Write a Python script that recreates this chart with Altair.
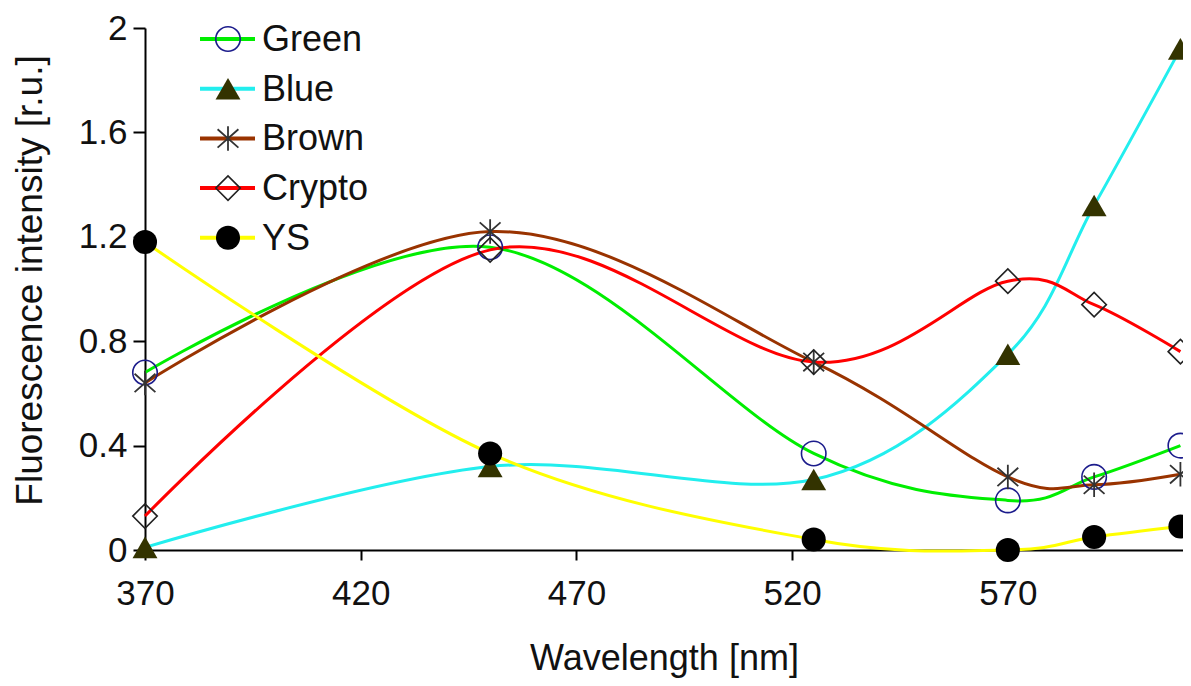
import altair as alt
import pandas as pd

# ---- data ----
wavelength = [370, 450, 525, 570, 590, 610]
series_names = ["Green", "Blue", "Brown", "Crypto", "YS"]
green = [0.68, 1.16, 0.37, 0.19, 0.28, 0.40]
blue = [0.01, 0.32, 0.27, 0.75, 1.32, 1.92]
brown = [0.64, 1.22, 0.72, 0.28, 0.25, 0.29]
crypto = [0.13, 1.15, 0.72, 1.03, 0.94, 0.76]
ys = [1.18, 0.37, 0.04, 0.0, 0.05, 0.09]
x_ticks = [370, 420, 470, 520, 570]
y_ticks = [0, 0.4, 0.8, 1.2, 1.6, 2]

rows = []
for name, vals in zip(series_names, [green, blue, brown, crypto, ys]):
    for w, v in zip(wavelength, vals):
        rows.append({"series": name, "wl": w, "val": v})
df = pd.DataFrame(rows)

FONT = "Liberation Sans"
ASTERISK = "M0,-1L0,1M-0.85,-0.75L0.85,0.75M-0.85,0.75L0.85,-0.75"

styles = {
    "Green": dict(line="#00ee00", shape="circle", filled=False, mcolor="#1c1c8c", size=600, sw=1.6),
    "Blue": dict(line="#22eeee", shape="triangle-up", filled=True, mcolor="#333300", size=620, sw=1),
    "Brown": dict(line="#993300", shape=ASTERISK, filled=False, mcolor="#333333", size=600, sw=1.8),
    "Crypto": dict(line="#ff0000", shape="diamond", filled=False, mcolor="#222222", size=600, sw=1.6),
    "YS": dict(line="#ffff00", shape="circle", filled=True, mcolor="#000000", size=580, sw=1),
}

x_scale = alt.Scale(domain=[370, 610.6], nice=False, zero=False)
y_scale = alt.Scale(domain=[0, 2], nice=False)

x_axis = alt.Axis(values=x_ticks, format="d", title="Wavelength [nm]", tickSize=10,
                  labelPadding=16, labelFlush=False, titleY=108, titleBaseline="middle",
                  titleFontSize=36)
y_axis = alt.Axis(values=y_ticks, format=".1~f", title="Fluorescence intensity [r.u.]",
                  tickSize=12, labelPadding=6, labelFlush=False, titleX=-115, titleY=252,
                  titleAngle=270, titleBaseline="middle", titleAlign="center",
                  titleFontSize=37)

X = alt.X("wl:Q", scale=x_scale, axis=x_axis)
Y = alt.Y("val:Q", scale=y_scale, axis=y_axis)

base = alt.Chart(df)
line_layers, point_layers, legend_layers = [], [], []
for i, name in enumerate(series_names):
    s = styles[name]
    sub = base.transform_filter(alt.datum.series == name)
    line_layers.append(
        sub.mark_line(interpolate="cardinal", color=s["line"], strokeWidth=3, clip=False)
        .encode(x=X, y=Y)
    )
    point_layers.append(
        sub.mark_point(shape=s["shape"], filled=s["filled"], color=s["mcolor"],
                       size=s["size"], strokeWidth=s["sw"], opacity=1, clip=False)
        .encode(x=X, y=Y)
    )
    ly = 11 + 49.7 * i
    ldf = alt.Chart(pd.DataFrame({"name": [name]}))
    legend_layers.append(
        ldf.mark_rule(color=s["line"], strokeWidth=4)
        .encode(x=alt.value(55), x2=alt.value(110), y=alt.value(ly))
    )
    legend_layers.append(
        ldf.mark_point(shape=s["shape"], filled=s["filled"], color=s["mcolor"],
                       size=s["size"], strokeWidth=s["sw"], opacity=1)
        .encode(x=alt.value(83), y=alt.value(ly))
    )
    legend_layers.append(
        ldf.mark_text(align="left", baseline="middle", font=FONT, fontSize=36, color="#111111")
        .encode(x=alt.value(117), y=alt.value(ly + 1), text="name:N")
    )

chart = (
    alt.layer(*line_layers, *point_layers, *legend_layers)
    .properties(
        width=1038,
        height=522,
        autosize=alt.AutoSizeParams(type="none"),
        padding={"left": 137, "top": 20, "right": 0, "bottom": 128},
        background="white",
    )
    .configure_view(stroke=None)
    .configure_axis(
        grid=False,
        domainColor="black",
        domainWidth=2,
        tickColor="black",
        tickWidth=2,
        labelFont=FONT,
        labelFontSize=35,
        labelColor="#111111",
        titleFont=FONT,
        titleFontWeight="normal",
        titleColor="#111111",
    )
)

chart.save("out.html", embed_options={"renderer": "svg", "actions": False})
